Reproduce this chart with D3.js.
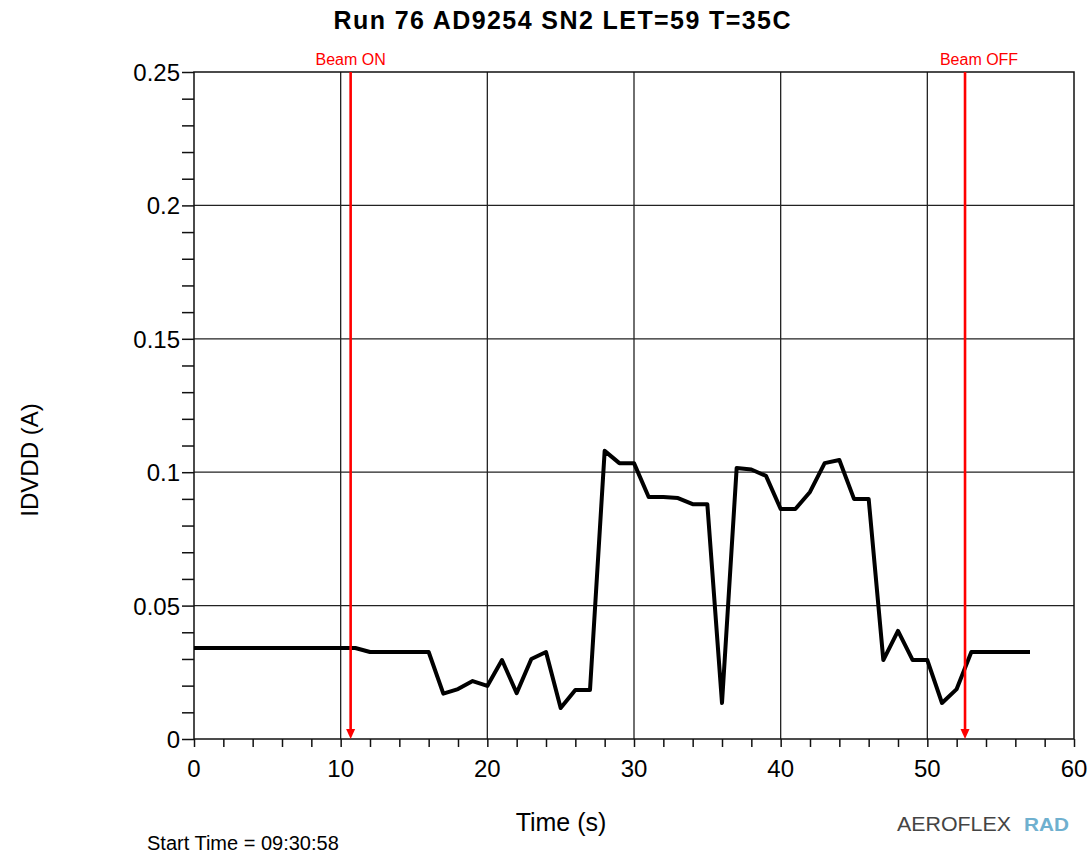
<!DOCTYPE html>
<html>
<head>
<meta charset="utf-8">
<script src="https://cdn.jsdelivr.net/npm/d3@7"></script>
<style>
  html, body { margin: 0; padding: 0; background: #fff; }
  svg { display: block; font-family: "Liberation Sans", Arial, sans-serif; }
</style>
</head>
<body>
<svg id="chart" width="1090" height="854"></svg>
<script>
// ---- data ----
const times = d3.range(0, 58);
const current = [
  0.0341, 0.0341, 0.0341, 0.0341, 0.0341, 0.0341, 0.0341, 0.0341, 0.0341, 0.0341,
  0.0341, 0.0341, 0.0326, 0.0326, 0.0326, 0.0326, 0.0326, 0.0170, 0.0187, 0.0217,
  0.0199, 0.0296, 0.0172, 0.0300, 0.0326, 0.0116, 0.0184, 0.0184, 0.1080, 0.1034,
  0.1034, 0.0907, 0.0907, 0.0903, 0.0880, 0.0880, 0.0135, 0.1016, 0.1010, 0.0986,
  0.0862, 0.0862, 0.0926, 0.1034, 0.1046, 0.0900, 0.0900, 0.0296, 0.0405, 0.0296,
  0.0296, 0.0135, 0.0187, 0.0326, 0.0326, 0.0326, 0.0326, 0.0326
];
const xTicks = [0, 10, 20, 30, 40, 50, 60];
const yTicks = [0, 0.05, 0.1, 0.15, 0.2, 0.25];
const yTickLabels = ["0", "0.05", "0.1", "0.15", "0.2", "0.25"];
const beamLabels = ["Beam ON", "Beam OFF"];
const beamTimes = [10.68, 52.57];
const title = "Run 76 AD9254 SN2 LET=59 T=35C";
const xLabel = "Time (s)";
const yLabel = "IDVDD (A)";
const startTime = "Start Time = 09:30:58";

// ---- layout ----
const svg = d3.select("#chart");
const L = 194, R = 1074, T = 72, B = 739;
const x = d3.scaleLinear().domain([0, 60]).range([L, R]);
const y = d3.scaleLinear().domain([0, 0.25]).range([B, T]);
const beamLabelShift = [0, 14];

// grid
const grid = svg.append("g");
grid.selectAll("line.gx").data(xTicks.slice(1, -1)).join("line")
  .attr("x1", d => x(d)).attr("x2", d => x(d)).attr("y1", T).attr("y2", B)
  .attr("stroke", "#222").attr("stroke-width", 1.3);
grid.selectAll("line.gy").data(yTicks.slice(1, -1)).join("line")
  .attr("x1", L).attr("x2", R).attr("y1", d => y(d)).attr("y2", d => y(d))
  .attr("stroke", "#222").attr("stroke-width", 1.3);

// border
svg.append("rect").attr("x", L).attr("y", T).attr("width", R - L).attr("height", B - T)
  .attr("fill", "none").attr("stroke", "#111").attr("stroke-width", 1.5);

// axes ticks
const xMinor = d3.range(0, 61, 2);
const xAxis = d3.axisBottom(x).tickValues(xMinor).tickSize(8).tickFormat("");
const gx = svg.append("g").attr("transform", `translate(0,${B})`).call(xAxis);
gx.select(".domain").remove();
gx.selectAll(".tick line").attr("stroke", "#111").attr("stroke-width", 1.5);

const yMinor = d3.range(0, 26).map(i => i / 100);
const yAxis = d3.axisLeft(y).tickValues(yMinor).tickSize(12).tickFormat("");
const gy = svg.append("g").attr("transform", `translate(${L},0)`).call(yAxis);
gy.select(".domain").remove();
gy.selectAll(".tick line").attr("stroke", "#111").attr("stroke-width", 1.5);

// tick labels
svg.append("g").selectAll("text").data(xTicks).join("text")
  .attr("x", d => x(d)).attr("y", 777).attr("text-anchor", "middle")
  .attr("font-size", 24).attr("fill", "#000").text(d => d);
svg.append("g").selectAll("text").data(yTicks).join("text")
  .attr("x", 180).attr("y", d => y(d) + 9).attr("text-anchor", "end")
  .attr("font-size", 24).attr("fill", "#000").text((d, i) => yTickLabels[i]);

// data line
const line = d3.line().x((d, i) => x(times[i])).y(d => y(d));
svg.append("path").datum(current).attr("d", line)
  .attr("fill", "none").attr("stroke", "#000").attr("stroke-width", 4)
  .attr("stroke-linejoin", "round");

// beam markers
const bm = svg.append("g");
beamTimes.forEach((t, i) => {
  const px = x(t);
  bm.append("line").attr("x1", px).attr("x2", px).attr("y1", T).attr("y2", B - 8)
    .attr("stroke", "#ff0000").attr("stroke-width", 2.6);
  bm.append("path").attr("d", `M${px - 4.5},${B - 10} L${px + 4.5},${B - 10} L${px},${B} Z`)
    .attr("fill", "#ff0000");
  bm.append("text").attr("x", px + beamLabelShift[i]).attr("y", 65).attr("text-anchor", "middle")
    .attr("font-size", 16).attr("fill", "#ff0000").text(beamLabels[i]);
});

// titles
svg.append("text").attr("x", 562).attr("y", 29).attr("text-anchor", "middle")
  .attr("font-size", 25).attr("font-weight", "bold").attr("fill", "#000")
  .attr("textLength", 457).text(title);
svg.append("text").attr("x", 561).attr("y", 831).attr("text-anchor", "middle")
  .attr("font-size", 25).attr("fill", "#000").text(xLabel);
svg.append("text").attr("transform", "translate(38,460) rotate(-90)").attr("text-anchor", "middle")
  .attr("font-size", 24).attr("fill", "#000").text(yLabel);
svg.append("text").attr("x", 147).attr("y", 850)
  .attr("font-size", 20).attr("fill", "#000").text(startTime);

// logo
svg.append("text").attr("x", 897).attr("y", 831).attr("font-size", 20)
  .attr("fill", "#444").attr("textLength", 114).attr("lengthAdjust", "spacingAndGlyphs")
  .text("AEROFLEX");
svg.append("text").attr("x", 1024).attr("y", 831).attr("font-size", 19).attr("font-weight", "bold")
  .attr("fill", "#6fb0cf").attr("textLength", 45).attr("lengthAdjust", "spacingAndGlyphs")
  .text("RAD");
</script>
</body>
</html>
